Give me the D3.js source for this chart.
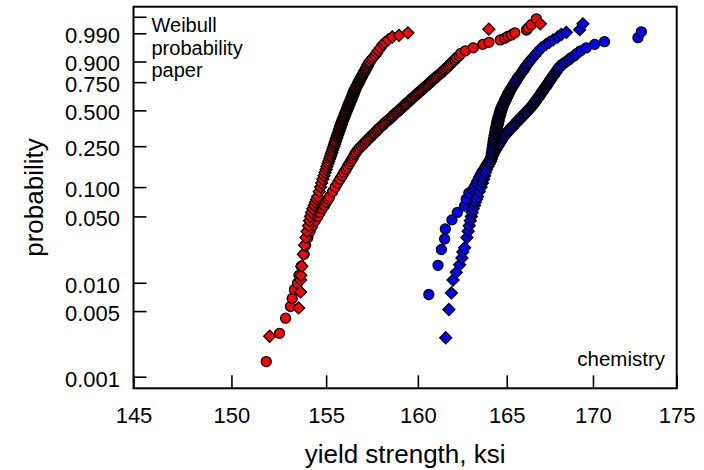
<!DOCTYPE html>
<html>
<head>
<meta charset="utf-8">
<script src="https://cdn.jsdelivr.net/npm/d3@7"></script>
<style>
  body { margin: 0; background: #fff; }
  svg { display: block; font-family: "Liberation Sans", Arial, sans-serif; }
</style>
</head>
<body>
<svg id="chart" width="704" height="470"></svg>
<script>
// yield strength (ksi) against cumulative probability, one array per lot / marker
var redCircles = [[151.82,0.00145],[152.52,0.0029],[152.84,0.0042],[153.10,0.0056],[153.19,0.0068],[153.31,0.0085],[153.47,0.0099],
  [153.55,0.012],[153.67,0.015],[153.82,0.02],[153.90,0.025],[154.02,0.03],[154.14,0.035],[154.27,0.04],[154.41,0.045],[154.55,0.05],
  [154.67,0.055],[154.79,0.06],[154.91,0.065],[155.01,0.07],[155.11,0.075],[155.19,0.08],[155.35,0.09],[155.49,0.10],[155.62,0.11],
  [155.74,0.12],[155.86,0.13],[155.96,0.14],[156.07,0.15],[156.15,0.16],[156.25,0.17],[156.33,0.18],[156.41,0.19],[156.48,0.20],
  [156.55,0.21],[156.62,0.22],[156.71,0.23],[156.80,0.24],[156.90,0.25],[157.01,0.26],[157.10,0.27],[157.19,0.28],[157.28,0.29],
  [157.37,0.30],[157.46,0.31],[157.55,0.32],[157.63,0.33],[157.72,0.34],[157.79,0.35],[157.86,0.36],[157.95,0.37],[158.05,0.38],
  [158.12,0.39],[158.19,0.40],[158.27,0.41],[158.36,0.42],[158.44,0.43],[158.52,0.44],[158.59,0.45],[158.66,0.46],[158.73,0.47],
  [158.81,0.48],[158.88,0.49],[158.96,0.50],[159.03,0.51],[159.10,0.52],[159.17,0.53],[159.25,0.54],[159.31,0.55],[159.37,0.56],
  [159.44,0.57],[159.52,0.58],[159.58,0.59],[159.64,0.60],[159.71,0.61],[159.79,0.62],[159.86,0.63],[159.93,0.64],[159.99,0.65],
  [160.05,0.66],[160.13,0.67],[160.21,0.68],[160.27,0.69],[160.33,0.70],[160.41,0.71],[160.49,0.72],[160.56,0.73],[160.63,0.74],
  [160.70,0.75],[160.77,0.76],[160.85,0.77],[160.93,0.78],[161.00,0.79],[161.08,0.80],[161.17,0.81],[161.26,0.82],[161.34,0.83],
  [161.42,0.84],[161.50,0.85],[161.59,0.86],[161.68,0.87],[161.77,0.88],[161.86,0.89],[161.96,0.90],[162.07,0.91],
  [162.16,0.92],[162.30,0.93],[162.41,0.94],[162.66,0.95],[163.10,0.96],[163.64,0.97],[163.99,0.975],[164.63,0.98],[164.89,0.983],
  [165.07,0.986],[165.27,0.988],[165.46,0.9905],[166.13,0.9932],[166.22,0.9947],[166.41,0.9966],[166.70,0.9986]];

var redDiamonds = [[152.00,0.0027],[153.53,0.0054],[153.63,0.008],[153.63,0.0107],
  [153.65,0.012],[153.70,0.015],[153.78,0.02],[153.85,0.025],[153.92,0.03],[153.98,0.035],[154.06,0.04],[154.11,0.045],[154.16,0.05],
  [154.22,0.055],[154.29,0.06],[154.36,0.065],[154.43,0.07],[154.49,0.075],[154.55,0.08],[154.63,0.09],[154.70,0.10],[154.76,0.11],
  [154.82,0.12],[154.89,0.13],[154.94,0.14],[155.00,0.15],[155.04,0.16],[155.10,0.17],[155.14,0.18],[155.19,0.19],[155.23,0.20],
  [155.27,0.21],[155.31,0.22],[155.35,0.23],[155.38,0.24],[155.42,0.25],[155.45,0.26],[155.48,0.27],[155.51,0.28],[155.54,0.29],
  [155.57,0.30],[155.60,0.31],[155.63,0.32],[155.66,0.33],[155.69,0.34],[155.72,0.35],[155.74,0.36],[155.77,0.37],[155.79,0.38],
  [155.82,0.39],[155.84,0.40],[155.87,0.41],[155.89,0.42],[155.92,0.43],[155.95,0.44],[155.98,0.45],[156.00,0.46],[156.03,0.47],
  [156.05,0.48],[156.08,0.49],[156.10,0.50],[156.13,0.51],[156.15,0.52],[156.18,0.53],[156.21,0.54],[156.23,0.55],[156.25,0.56],
  [156.28,0.57],[156.30,0.58],[156.33,0.59],[156.35,0.60],[156.38,0.61],[156.40,0.62],[156.43,0.63],[156.45,0.64],[156.47,0.65],
  [156.49,0.66],[156.52,0.67],[156.54,0.68],[156.57,0.69],[156.59,0.70],[156.63,0.71],[156.66,0.72],[156.70,0.73],[156.73,0.74],
  [156.76,0.75],[156.79,0.76],[156.83,0.77],[156.86,0.78],[156.90,0.79],[156.93,0.80],[156.97,0.81],[157.01,0.82],[157.05,0.83],
  [157.09,0.84],[157.13,0.85],[157.17,0.86],[157.22,0.87],[157.26,0.88],[157.31,0.89],[157.35,0.90],[157.44,0.91],
  [157.52,0.92],[157.64,0.93],[157.73,0.94],[157.82,0.95],[157.94,0.96],[158.08,0.97],[158.19,0.975],[158.36,0.98],[158.59,0.985],
  [158.96,0.9875],[159.45,0.9905],[163.98,0.9939],[166.93,0.997]];

var blueCircles = [[160.61,0.0075],[161.12,0.0153],[161.31,0.0225],[161.49,0.029],[161.53,0.037],[161.90,0.046],[162.20,0.055],
  [162.61,0.064],[162.70,0.075],[162.85,0.087],[163.08,0.094],
  [163.17,0.10],[163.28,0.11],[163.38,0.12],[163.48,0.13],[163.58,0.14],[163.70,0.15],[163.80,0.16],[163.90,0.17],[163.99,0.18],
  [164.07,0.19],[164.15,0.20],[164.23,0.21],[164.30,0.22],[164.37,0.23],[164.43,0.24],[164.50,0.25],[164.56,0.26],[164.62,0.27],
  [164.68,0.28],[164.74,0.29],[164.79,0.30],[164.86,0.31],[164.93,0.32],[165.01,0.33],[165.09,0.34],[165.16,0.35],[165.23,0.36],
  [165.32,0.37],[165.40,0.38],[165.47,0.39],[165.53,0.40],[165.61,0.41],[165.68,0.42],[165.75,0.43],[165.82,0.44],[165.89,0.45],
  [165.95,0.46],[166.02,0.47],[166.09,0.48],[166.15,0.49],[166.21,0.50],[166.28,0.51],[166.34,0.52],[166.40,0.53],[166.46,0.54],
  [166.51,0.55],[166.56,0.56],[166.61,0.57],[166.66,0.58],[166.70,0.59],[166.74,0.60],[166.79,0.61],[166.84,0.62],[166.89,0.63],
  [166.93,0.64],[166.97,0.65],[167.01,0.66],[167.06,0.67],[167.11,0.68],[167.15,0.69],[167.19,0.70],[167.24,0.71],[167.29,0.72],
  [167.34,0.73],[167.38,0.74],[167.42,0.75],[167.46,0.76],[167.52,0.77],[167.57,0.78],[167.62,0.79],[167.66,0.80],[167.72,0.81],
  [167.78,0.82],[167.83,0.83],[167.88,0.84],[167.94,0.85],[167.99,0.86],[168.08,0.87],[168.17,0.88],[168.30,0.89],
  [168.44,0.90],[168.59,0.91],[168.72,0.92],[168.91,0.93],[169.07,0.94],[169.27,0.95],[169.61,0.96],[170.10,0.97],[170.68,0.9765],
  [172.67,0.984],[172.87,0.9915]];

var blueDiamonds = [[161.55,0.0026],[161.73,0.0052],[161.87,0.0078],[161.96,0.0107],[162.14,0.0129],[162.33,0.0155],[162.46,0.0183],
  [162.51,0.0212],[162.61,0.0235],
  [162.74,0.03],[162.81,0.035],[162.87,0.04],[162.93,0.045],[162.99,0.05],[163.04,0.055],[163.09,0.06],[163.17,0.065],[163.22,0.07],
  [163.28,0.075],[163.34,0.08],[163.44,0.09],[163.54,0.10],[163.62,0.11],[163.68,0.12],[163.74,0.13],[163.79,0.14],[163.85,0.15],
  [163.93,0.16],[164.01,0.17],[164.08,0.18],[164.13,0.19],[164.15,0.20],[164.17,0.21],[164.18,0.22],[164.20,0.23],[164.22,0.24],
  [164.24,0.25],[164.25,0.26],[164.27,0.27],[164.28,0.28],[164.30,0.29],[164.31,0.30],[164.33,0.31],[164.35,0.32],[164.37,0.33],
  [164.38,0.34],[164.40,0.35],[164.41,0.36],[164.43,0.37],[164.45,0.38],[164.47,0.39],[164.48,0.40],[164.50,0.41],[164.51,0.42],
  [164.53,0.43],[164.55,0.44],[164.57,0.45],[164.59,0.46],[164.61,0.47],[164.63,0.48],[164.65,0.49],[164.67,0.50],[164.69,0.51],
  [164.71,0.52],[164.74,0.53],[164.77,0.54],[164.80,0.55],[164.82,0.56],[164.86,0.57],[164.89,0.58],[164.92,0.59],[164.94,0.60],
  [164.98,0.61],[165.01,0.62],[165.04,0.63],[165.07,0.64],[165.10,0.65],[165.12,0.66],[165.16,0.67],[165.20,0.68],[165.24,0.69],
  [165.27,0.70],[165.32,0.71],[165.36,0.72],[165.40,0.73],[165.44,0.74],[165.48,0.75],[165.52,0.76],[165.57,0.77],[165.62,0.78],
  [165.66,0.79],[165.70,0.80],[165.76,0.81],[165.82,0.82],[165.88,0.83],[165.93,0.84],[165.98,0.85],[166.03,0.86],[166.10,0.87],
  [166.16,0.88],[166.23,0.89],[166.30,0.90],[166.39,0.91],[166.48,0.92],[166.60,0.93],[166.71,0.94],[166.84,0.95],
  [166.99,0.96],[167.26,0.97],[167.45,0.975],[167.67,0.98],[167.94,0.985],[168.15,0.9885],[168.44,0.991],[169.22,0.9935],[169.41,0.997]];

var xTicks = [145, 150, 155, 160, 165, 170, 175];
var yTicks = [0.001, 0.005, 0.01, 0.05, 0.1, 0.25, 0.5, 0.75, 0.9, 0.99, 0.999];
var yTickLabels = ["0.001", "0.005", "0.010", "0.050", "0.100", "0.250", "0.500", "0.750", "0.900", "0.990", ""];
var probRange = [0.000752, 0.999856];

var box = {left: 133.5, right: 676.7, top: 6.7, bottom: 388.3};

// Weibull paper: y is ln(-ln(1-p))
function weib(p) { return Math.log(-Math.log(1 - p)); }

var svg = d3.select("#chart");

var x = d3.scaleLog().domain([145, 175]).range([box.left, box.right]);
var y = d3.scaleLinear().domain(probRange.map(weib)).range([box.bottom, box.top]);

// axes, ticks pointing inside
var xAxis = d3.axisBottom(x).tickValues(xTicks).tickFormat(d3.format("d")).tickSize(-13).tickSizeOuter(0).tickPadding(19);
var gx = svg.append("g").attr("transform", "translate(0," + box.bottom + ")").call(xAxis);

var yAxis = d3.axisLeft(y).tickValues(yTicks.map(weib)).tickSize(-13).tickSizeOuter(0).tickPadding(13.5)
  .tickFormat(function(d, i) { return yTickLabels[i]; });
var gy = svg.append("g").attr("transform", "translate(" + box.left + ",0)").call(yAxis);
gy.selectAll("text").attr("dy", "0.43em");

[gx, gy].forEach(function(g) {
  g.select(".domain").remove();
  g.selectAll("line").attr("stroke", "#000").attr("stroke-width", 1.6);
  g.selectAll("text").attr("fill", "#000").attr("font-size", 22).attr("font-family", "'Liberation Sans', Arial, sans-serif");
});

svg.append("rect").attr("x", box.left).attr("y", box.top)
  .attr("width", box.right - box.left).attr("height", box.bottom - box.top)
  .attr("fill", "none").attr("stroke", "#000").attr("stroke-width", 2);

// markers
var plot = svg.append("g");
var diamond = d3.symbol().type(d3.symbolSquare).size(72);

function drawCircles(data, fill) {
  plot.append("g").selectAll("circle").data(data).enter().append("circle")
    .attr("cx", function(d) { return x(d[0]); })
    .attr("cy", function(d) { return y(weib(d[1])); })
    .attr("r", 5)
    .attr("fill", fill).attr("stroke", "#000").attr("stroke-width", 1.3);
}

function drawDiamonds(data, fill) {
  plot.append("g").selectAll("path").data(data).enter().append("path")
    .attr("d", diamond)
    .attr("transform", function(d) { return "translate(" + x(d[0]) + "," + y(weib(d[1])) + ") rotate(45)"; })
    .attr("fill", fill).attr("stroke", "#000").attr("stroke-width", 1.3);
}

drawCircles(redCircles, "#ff0000");
drawDiamonds(redDiamonds, "#ff0000");
drawCircles(blueCircles, "#0000ff");
drawDiamonds(blueDiamonds, "#0000ff");

// annotations
var note = svg.append("text").attr("x", 151.5).attr("y", 32).attr("font-size", 20);
["Weibull", "probability", "paper"].forEach(function(s, i) {
  note.append("tspan").attr("x", 151.5).attr("dy", i ? 22.6 : 0).text(s);
});
svg.append("text").attr("x", 665).attr("y", 366).attr("text-anchor", "end").attr("font-size", 20.5).text("chemistry");

svg.append("text").attr("x", (box.left + box.right) / 2).attr("y", 463).attr("text-anchor", "middle")
  .attr("font-size", 26).text("yield strength, ksi");
svg.append("text").attr("transform", "translate(43," + (box.top + box.bottom) / 2 + ") rotate(-90)")
  .attr("text-anchor", "middle").attr("font-size", 26).text("probability");
</script>
</body>
</html>
